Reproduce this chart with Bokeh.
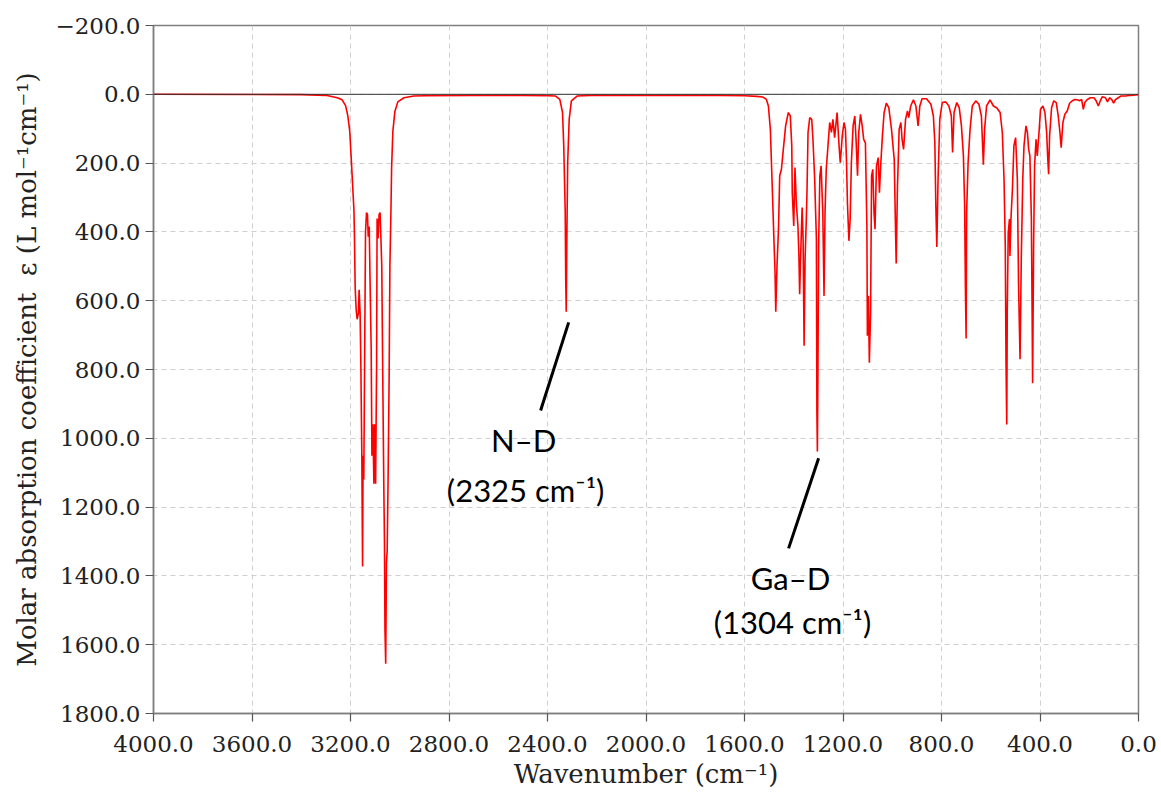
from bokeh.plotting import figure
from bokeh.models import Range1d, FixedTicker, CustomJSTickFormatter, Span, ColumnDataSource
from bokeh.core.properties import value
from bokeh.embed import file_html
from bokeh.resources import INLINE

# Spectrum: wavenumber (cm-1) and molar absorption coefficient
wavenumber = [
    4000, 3600, 3400, 3300, 3254, 3234, 3220, 3211, 3203, 3196, 3191, 3186, 3184, 3181, 3177, 3173, 3168, 3165,
    3161, 3158, 3154, 3151, 3149, 3146, 3142, 3139, 3135, 3131, 3128, 3124, 3120, 3116, 3113, 3109, 3105, 3102,
    3098, 3094, 3092, 3088, 3084, 3080, 3077, 3073, 3069, 3065, 3062, 3060, 3057, 3054, 3051, 3047, 3043, 3040,
    3036, 3033, 3028, 3020, 3008, 2983, 2943, 2900, 2700, 2500, 2400,
    2367, 2350, 2339, 2334, 2328, 2326, 2324, 2321, 2318, 2312, 2303, 2280, 2225, 2000, 1700, 1600, 1550,
    1525, 1511, 1503, 1495, 1487, 1481, 1476, 1473, 1468, 1462, 1457, 1450, 1443, 1433, 1422, 1414, 1408, 1406,
    1400, 1395, 1389, 1383, 1379, 1376, 1372, 1366, 1362, 1358, 1354, 1349, 1346, 1342, 1335, 1327, 1322, 1315,
    1308, 1306, 1304, 1302, 1299, 1294, 1289, 1282, 1277, 1273, 1268, 1261, 1254, 1247, 1241, 1234, 1224, 1216,
    1211, 1203, 1196, 1190, 1186, 1182, 1176, 1171, 1166, 1159, 1152, 1147, 1141, 1136, 1129, 1122, 1116, 1109,
    1103, 1101, 1097, 1093, 1088, 1084, 1079, 1074, 1070, 1064, 1057, 1052, 1047, 1040, 1033, 1024, 1014, 1003,
    992, 988, 984, 979, 972, 965, 960, 954, 946, 938, 933, 925, 914, 904, 895, 888, 879, 861, 843, 833, 827, 823,
    819, 814, 807, 797, 783, 770, 760, 755, 749, 738, 728, 719, 711, 706, 703, 700, 698, 692, 684, 675, 661, 648,
    638, 633, 630, 625, 617, 603, 589, 576, 562, 553, 546, 541, 538, 535, 533, 529, 524, 522, 518, 512, 506, 499,
    492, 487, 481, 476, 470, 465, 457, 451, 446, 441, 435, 432, 430, 426, 422, 416, 411, 404, 398, 388, 380, 373,
    369, 365, 361, 353, 344, 334, 326, 319, 314, 307, 299, 289, 280, 269, 258, 249, 239, 231, 224, 218, 208, 195,
    181, 172, 163, 155, 147, 134, 126, 117, 109, 101, 93, 82, 71, 52, 32, 12, 0,
]
epsilon = [
    0, 0.5, 1, 3, 10, 16, 33, 62, 108, 200, 269, 338, 407, 562, 626, 654, 637, 568,
    637, 781, 1051, 1373, 1051, 1120, 706, 401, 344, 350, 414, 384, 568, 741, 1051, 959, 1132, 959,
    1132, 787, 361, 419, 350, 344, 407, 499, 821, 1120, 1304, 1557, 1655, 1362, 1327, 1097, 810, 499,
    350, 212, 108, 51, 22, 10, 5, 4, 3, 3, 4,
    5, 15, 53, 150, 344, 537, 632, 392, 199, 73, 19, 5, 3, 3, 3, 4, 6,
    8, 15, 34, 102, 276, 412, 518, 632, 499, 392, 237, 218, 165, 92, 53, 63, 150, 286,
    383, 213, 324, 383, 470, 581, 470, 329, 421, 731, 479, 363, 276, 111, 68, 73, 131, 247,
    421, 925, 1038, 828, 441, 237, 208, 344, 586, 344, 218, 150, 82, 111, 73, 126, 53, 150,
    199, 121, 82, 102, 189, 315, 426, 363, 199, 92, 63, 131, 237, 111, 58, 92, 131, 141,
    383, 702, 586, 780, 634, 237, 218, 344, 392, 208, 184, 286, 208, 121, 53, 26, 39, 102,
    189, 344, 492, 276, 102, 82, 131, 160, 73, 48, 68, 34, 16, 34, 92, 34, 13, 13, 29, 63, 141, 324,
    444, 247, 73, 24, 22, 34, 63, 169, 53, 24, 39, 92, 179, 324, 557, 710, 344, 199, 102, 34, 19, 29,
    63, 150, 205, 102, 34, 16, 34, 39, 53, 111, 247, 441, 780, 960, 634, 402, 363, 470, 363, 276, 150, 126,
    247, 557, 770, 479, 247, 150, 92, 111, 160, 179, 363, 634, 840, 441, 208, 131, 179, 111, 44, 34, 53, 111,
    179, 232, 121, 39, 19, 24, 63, 111, 155, 82, 58, 48, 26, 19, 15, 16, 19, 15, 44, 24, 15, 10,
    10, 19, 34, 19, 7, 10, 22, 10, 15, 26, 15, 10, 5, 5, 3, 2, 1,
]

# Axis ticks
x_ticks = [4000, 3600, 3200, 2800, 2400, 2000, 1600, 1200, 800, 400, 0]
y_ticks = [-200, 0, 200, 400, 600, 800, 1000, 1200, 1400, 1600, 1800]

# Annotations
ann_names = ["N\u2013D", "Ga\u2013D"]
ann_wavenumbers = [2325, 1304]
ann_line_x0 = [2314, 1299]
ann_line_y0 = [663, 1058]
ann_line_x1 = [2428, 1421]
ann_line_y1 = [919, 1320]
ann_name_x = [2497, 1413]
ann_name_y = [1006, 1407]
ann_wn_x = [2489, 1405]
ann_wn_y = [1151, 1535]
ann_wn_text = ["(%d cm\u207b\u00b9)" % w for w in ann_wavenumbers]

p = figure(width=1161, height=793, output_backend="svg", toolbar_location=None,
           x_range=Range1d(4000, 0), y_range=Range1d(1800, -200),
           min_border_left=153, min_border_right=23, min_border_top=25, min_border_bottom=80)
p.background_fill_color = "white"
p.border_fill_color = "white"
p.outline_line_color = "#7f7f7f"
p.outline_line_width = 1.5

serif = "DejaVu Serif"
fmt = CustomJSTickFormatter(code="return (tick < 0 ? '\\u2212' : '') + Math.abs(tick).toFixed(1);")

p.xaxis.ticker = FixedTicker(ticks=x_ticks)
p.yaxis.ticker = FixedTicker(ticks=y_ticks)
p.xaxis.formatter = fmt
p.yaxis.formatter = fmt
for ax in (p.xaxis[0], p.yaxis[0]):
    ax.major_label_text_font = serif
    ax.major_label_text_font_size = "23px"
    ax.major_label_text_color = "#222222"
    ax.axis_label_text_font = serif
    ax.axis_label_text_font_size = "26px"
    ax.axis_label_text_font_style = "normal"
    ax.axis_label_text_color = "#222222"
    ax.axis_line_color = "#7f7f7f"
    ax.axis_line_width = 1.5
    ax.major_tick_line_color = "#555555"
    ax.major_tick_line_width = 1.2
    ax.major_tick_out = 8
    ax.major_tick_in = 0
    ax.minor_tick_line_color = None
p.xaxis.axis_label = "Wavenumber (cm\u207b\u00b9)"
p.yaxis.axis_label = "Molar absorption coefficient\u00a0\u00a0\u03b5 (L mol\u207b\u00b9cm\u207b\u00b9)"
p.xaxis.major_label_standoff = 14
p.yaxis.major_label_standoff = 5
p.xaxis.axis_label_standoff = 4
p.yaxis.axis_label_standoff = 10

p.xgrid.ticker = FixedTicker(ticks=x_ticks)
p.ygrid.ticker = FixedTicker(ticks=y_ticks)
for g in (p.xgrid[0], p.ygrid[0]):
    g.grid_line_color = "#cfcfcf"
    g.grid_line_dash = "5 4"
    g.grid_line_width = 1

p.add_layout(Span(location=0, dimension="width", line_color="#333333", line_width=1))

src = ColumnDataSource(dict(x=wavenumber, y=epsilon))
p.line("x", "y", source=src, line_color="#ff0000", line_width=1.6)

ann = ColumnDataSource(dict(x0=ann_line_x0, y0=ann_line_y0, x1=ann_line_x1, y1=ann_line_y1,
                            nx=ann_name_x, ny=ann_name_y, name=ann_names,
                            wx=ann_wn_x, wy=ann_wn_y, wt=ann_wn_text))
p.segment("x0", "y0", "x1", "y1", source=ann, line_color="black", line_width=3)
p.text("nx", "ny", text="name", source=ann, text_font=value("Lato"), text_font_size="31px",
       text_align="center", text_baseline="middle", text_color="black")
p.text("wx", "wy", text="wt", source=ann, text_font=value("Lato"), text_font_size="31px",
       text_align="center", text_baseline="middle", text_color="black")

open("out.html", "w").write(file_html(p, INLINE))
